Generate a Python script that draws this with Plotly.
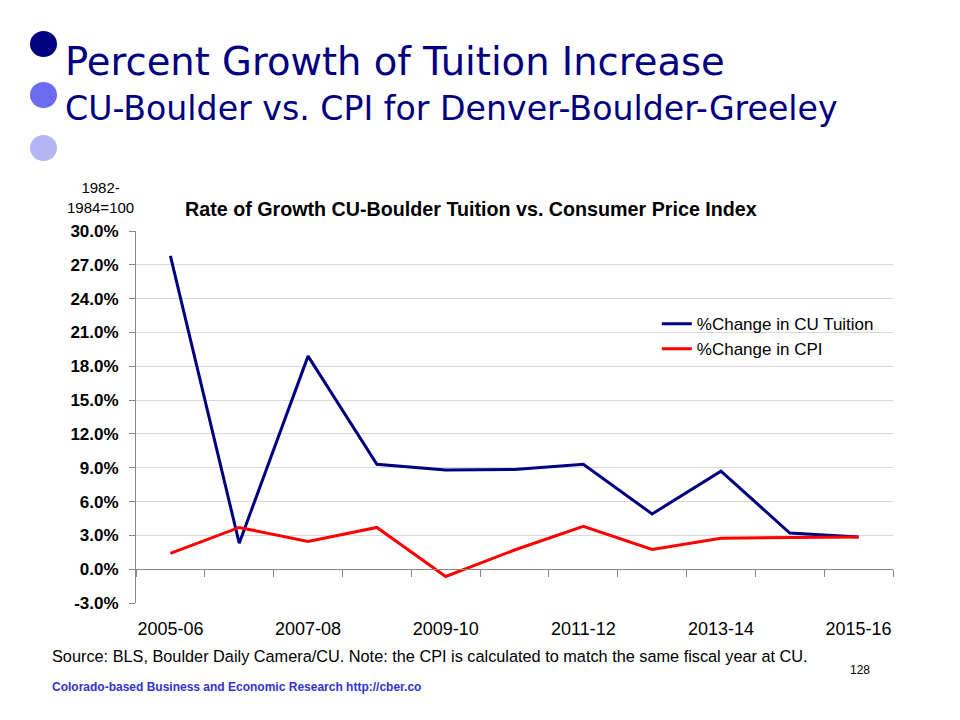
import plotly.graph_objects as go

years = ["2005-06", "2006-07", "2007-08", "2008-09", "2009-10", "2010-11",
         "2011-12", "2012-13", "2013-14", "2014-15", "2015-16"]
cu_tuition = [27.8, 2.3, 18.9, 9.3, 8.8, 8.85, 9.3, 4.9, 8.7, 3.2, 2.85]
cpi = [1.4, 3.7, 2.45, 3.7, -0.65, 1.7, 3.8, 1.75, 2.75, 2.8, 2.85]
y_ticks = [-3, 0, 3, 6, 9, 12, 15, 18, 21, 24, 27, 30]
x_labels = years[::2]

fig = go.Figure()
fig.add_trace(go.Scatter(x=list(range(len(years))), y=cu_tuition, mode="lines",
                         name="%Change in CU Tuition", line=dict(color="#000080", width=3)))
fig.add_trace(go.Scatter(x=list(range(len(years))), y=cpi, mode="lines",
                         name="%Change in CPI", line=dict(color="#ff0000", width=3)))

n = len(years)
# page body has an 8px margin, so margins are shifted to compensate
fig.update_layout(
    width=960, height=720,
    margin=dict(l=128, r=75, t=223, b=125),
    paper_bgcolor="white", plot_bgcolor="white",
    font=dict(family="Liberation Sans, Arial", color="black"),
    showlegend=True,
    legend=dict(x=0.688, y=0.798, xanchor="left", yanchor="top", bgcolor="rgba(0,0,0,0)",
                font=dict(size=17), itemwidth=30, tracegroupgap=0),
    xaxis=dict(range=[-0.5, n - 0.5], tickmode="array",
               tickvals=list(range(0, n, 2)), ticktext=x_labels,
               showgrid=False, zeroline=False, showline=False, ticks="",
               tickfont=dict(size=18), ticklabelstandoff=13),
    xaxis2=dict(range=[-0.5, n - 0.5], overlaying="x", anchor="free", position=3 / 33,
                side="bottom", tickmode="array", tickvals=[i - 0.5 for i in range(n + 1)],
                showticklabels=False, ticks="outside", ticklen=7, tickcolor="#888888",
                showline=True, linecolor="#888888", linewidth=1, showgrid=False, zeroline=False),
    yaxis=dict(range=[-3, 30], tickmode="array", tickvals=y_ticks,
               ticktext=["%.1f%%" % v for v in y_ticks],
               showgrid=True, gridcolor="#d9d9d9", gridwidth=1, zeroline=False,
               showline=True, linecolor="#888888", ticks="outside", ticklen=6,
               tickcolor="#888888", tickfont=dict(size=17, weight="bold"),
               ticklabelstandoff=7),
)

# hidden trace so xaxis2 gets drawn
fig.add_trace(go.Scatter(x=[0], y=[None], xaxis="x2", showlegend=False, hoverinfo="skip"))


def px(x):
    return (x - 136) / 757


def py(y):
    return (603 - y) / 372


# slide bullets
for yc, col in [(44, "#000080"), (95, "#6b6bf0"), (148, "#b5b5f5")]:
    fig.add_shape(type="circle", xref="paper", yref="paper",
                  x0=px(30), x1=px(57), y0=py(yc + 13), y1=py(yc - 13),
                  fillcolor=col, line=dict(width=0), layer="above")

ann = [
    dict(text="Percent Growth of Tuition Increase", x=px(63), y=py(61), size=38.5,
         color="#000080", family="Tahoma, DejaVu Sans, Verdana", xanchor="left"),
    dict(text="CU-Boulder vs. CPI for Denver-Boulder-Greeley", x=px(63), y=py(108), size=33.2,
         color="#000080", family="Tahoma, DejaVu Sans, Verdana", xanchor="left"),
    dict(text="<b>Rate of Growth CU-Boulder Tuition vs. Consumer Price Index</b>", x=px(471),
         y=py(209), size=19.7, color="black", family="Liberation Sans", xanchor="center"),
    dict(text="1982-<br>1984=100", x=px(100), y=py(197), size=15, color="black",
         family="Liberation Sans", xanchor="center"),
    dict(text="Source: BLS, Boulder Daily Camera/CU. Note: the CPI is calculated to match the same fiscal year at CU.",
         x=px(50), y=py(656), size=16.3, color="black", family="Liberation Sans", xanchor="left"),
    dict(text="128", x=px(860), y=py(670), size=12, color="black", family="Liberation Sans",
         xanchor="center"),
    dict(text="<b>Colorado-based Business and Economic Research http://cber.co</b>", x=px(50),
         y=py(687), size=12, color="#3333cc", family="Liberation Sans", xanchor="left"),
]
for a in ann:
    fig.add_annotation(text=a["text"], x=a["x"], y=a["y"], xref="paper", yref="paper",
                       xanchor=a["xanchor"], yanchor="middle", showarrow=False,
                       font=dict(size=a["size"], color=a["color"], family=a["family"]))

fig.write_html("out.html")
